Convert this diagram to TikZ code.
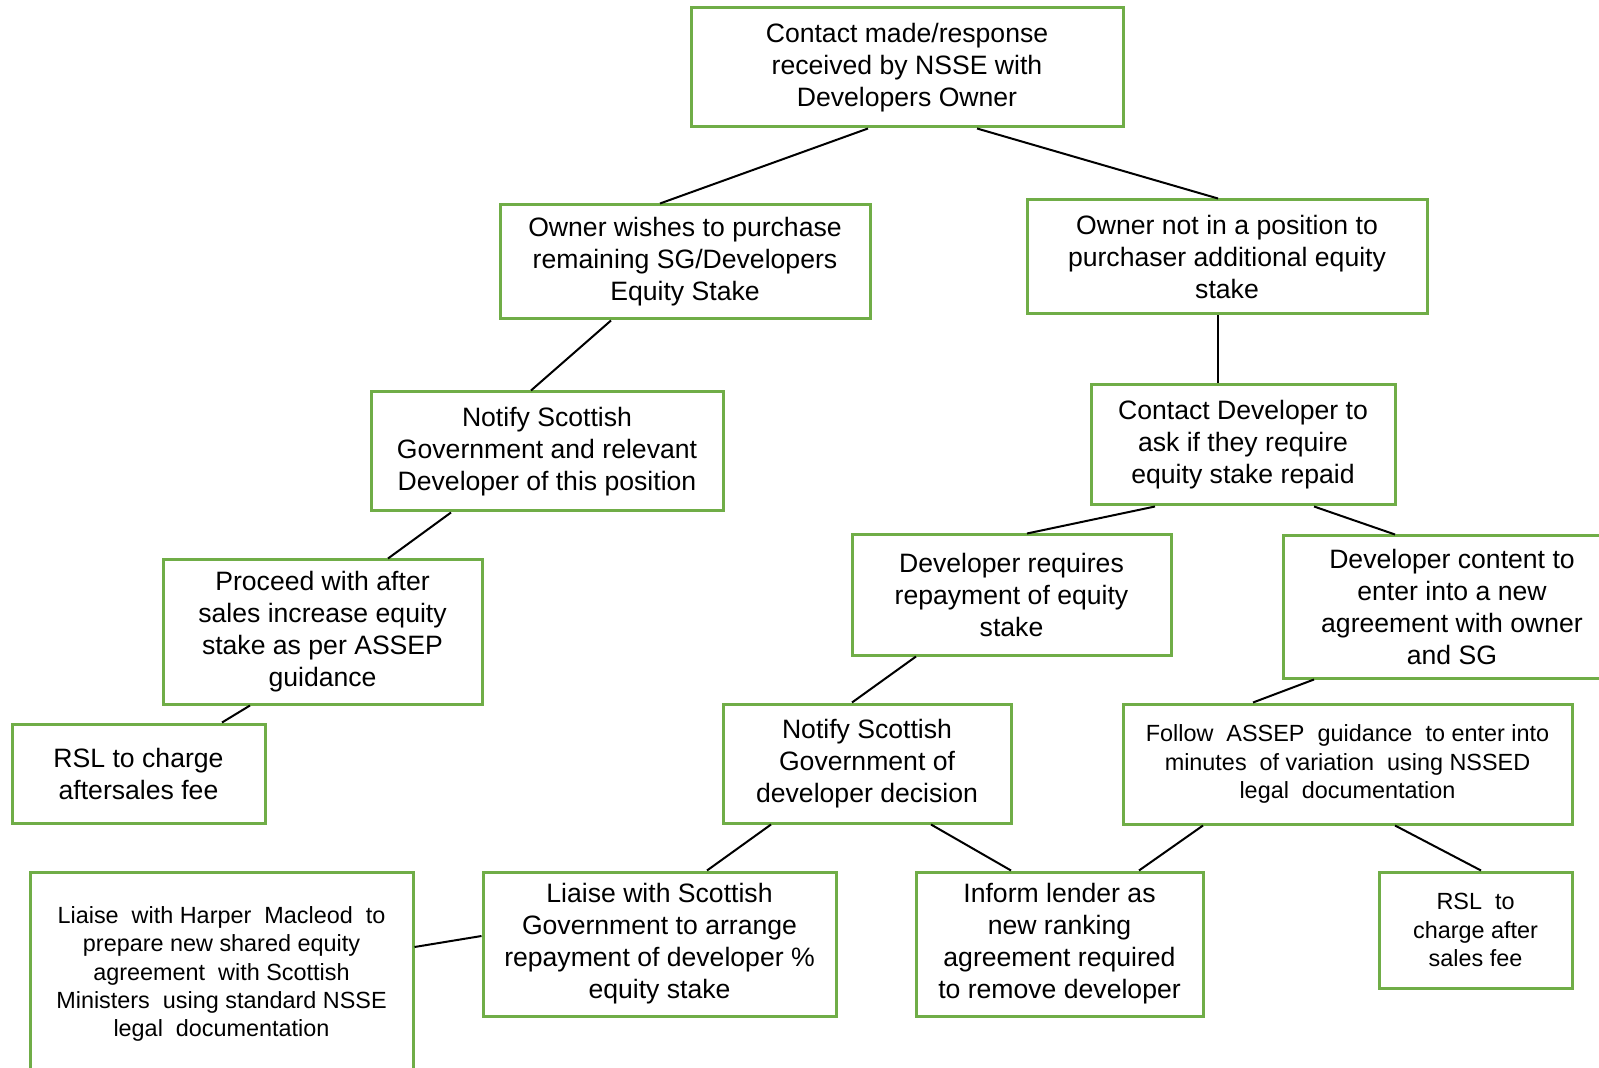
\documentclass[tikz,border=0pt]{standalone}
\usepackage{fontspec}
\setmainfont{Liberation Sans}
\definecolor{boxgreen}{HTML}{70AD47}
\tikzset{
	box/.style={draw=boxgreen, line width=1.5pt, align=center, inner sep=0pt,
		font=\fontsize{13.3}{16}\selectfont,
		execute at begin node={\rule{0pt}{15.2pt}}},
	smallbox/.style={box, font=\fontsize{11.7}{14.2}\selectfont,
		execute at begin node={\rule{0pt}{14pt}}},
	link/.style={line width=1pt}
}
\begin{document}
\begin{tikzpicture}[x=0.5pt, y=-0.5pt]
		\useasboundingbox (0, 0) rectangle (1599, 1068);
		\fill[white] (0, 0) rectangle (1599, 1068);
		\clip (0, 0) rectangle (1599, 1068);

		% 上の段
		\node[box, minimum width=216pt, minimum height=59.5pt] (top) at (907, 67.5) {Contact made/response\\received by NSSE with\\Developers Owner};
		\node[box, minimum width=185pt, minimum height=57pt] (wish) at (685, 262) {Owner wishes to purchase\\remaining SG/Developers\\Equity Stake};
		\node[box, minimum width=200pt, minimum height=57pt] (notpos) at (1227, 257) {Owner not in a position to\\purchaser additional equity\\stake};

		% 左の枝
		\node[box, minimum width=176pt, minimum height=59.5pt] (notify) at (547, 451.5) {Notify Scottish\\Government and relevant\\Developer of this position};
		\node[box, minimum width=159.5pt, minimum height=72pt] (proceed) at (322.5, 632) {Proceed with after\\sales increase equity\\stake as per ASSEP\\guidance};
		\node[box, minimum width=126.5pt, minimum height=49.5pt] (rsl) at (138.5, 773.5) {RSL to charge\\aftersales fee};

		% 右の枝
		\node[box, minimum width=152pt, minimum height=60pt] (contact) at (1243, 445) {Contact Developer to\\ask if they require\\equity stake repaid};
		\node[box, minimum width=159.5pt, minimum height=60pt] (devreq) at (1011.5, 595) {Developer requires\\repayment of equity\\stake};
		\node[box, minimum width=169pt, minimum height=71pt] (devcont) at (1452, 607) {Developer content to\\enter into a new\\agreement with owner\\and SG};
		\node[box, minimum width=144pt, minimum height=59.5pt] (decision) at (867, 763.5) {Notify Scottish\\Government of\\developer decision};
		\node[smallbox, minimum width=224.5pt, minimum height=60pt] (follow) at (1347.5, 764) {Follow \ ASSEP \ guidance \ to enter into\\minutes \ of variation \ using NSSED\\legal \ documentation};

		% 下の段
		\node[smallbox, minimum width=191.5pt, minimum height=102pt] (harper) at (221.5, 974) {Liaise \ with Harper \ Macleod \ to\\prepare new shared equity\\agreement \ with Scottish\\Ministers \ using standard NSSE\\legal \ documentation};
		\node[box, minimum width=176.5pt, minimum height=72pt] (liaise) at (659.5, 944) {Liaise with Scottish\\Government to arrange\\repayment of developer \%\\equity stake};
		\node[box, minimum width=143.5pt, minimum height=72pt] (inform) at (1059.5, 944) {Inform lender as\\new ranking\\agreement required\\to remove developer};
		\node[smallbox, minimum width=96.5pt, minimum height=58pt] (rslfee) at (1475.5, 930) {RSL \ to\\charge after\\sales fee};

		% 線を描画
		\draw[link] ([xshift=-19.5pt]top.south) -- ([xshift=-12.5pt]wish.north);
		\draw[link] ([xshift=35pt]top.south) -- ([xshift=-4.5pt]notpos.north);
		\draw[link] ([xshift=-37pt]wish.south) -- ([xshift=-8pt]notify.north);
		\draw[link] ([xshift=-4.5pt]notpos.south) -- ([xshift=-12.5pt]contact.north);
		\draw[link] ([xshift=-48pt]notify.south) -- ([xshift=32.75pt]proceed.north);
		\draw[link] ([xshift=-36.25pt]proceed.south) -- ([xshift=41.75pt]rsl.north);
		\draw[link] ([xshift=-44pt]contact.south) -- ([xshift=7.75pt]devreq.north);
		\draw[link] ([xshift=35.5pt]contact.south) -- ([xshift=-28.5pt]devcont.north);
		\draw[link] ([xshift=-47.75pt]devreq.south) -- ([xshift=-7.5pt]decision.north);
		\draw[link] ([xshift=-69pt]devcont.south) -- ([xshift=-47.25pt]follow.north);
		\draw[link] ([xshift=-48pt]decision.south) -- ([xshift=23.75pt]liaise.north);
		\draw[link] ([xshift=32pt]decision.south) -- ([xshift=-24.25pt]inform.north);
		\draw[link] ([xshift=-72.25pt]follow.south) -- ([xshift=39.75pt]inform.north);
		\draw[link] ([xshift=23.75pt]follow.south) -- ([xshift=2.75pt]rslfee.north);
		\draw[link] ([yshift=4pt]liaise.west) -- ([yshift=13.5pt]harper.east);

	\end{tikzpicture}
\end{document}
